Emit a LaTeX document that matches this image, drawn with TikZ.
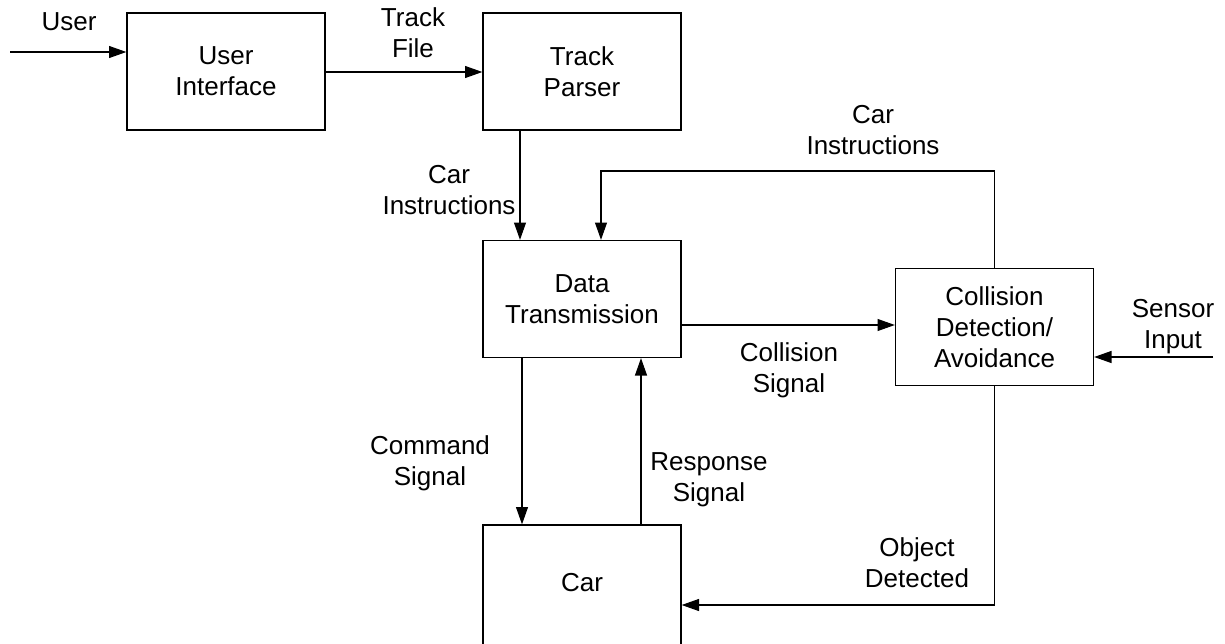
\documentclass[tikz,border=0pt]{standalone}
\usepackage{fontspec}
\setmainfont{Liberation Sans}
\usetikzlibrary{arrows.meta,calc}
\begin{document}
\begin{tikzpicture}[x=0.75pt,y=-0.75pt,
  font=\fontsize{19.5}{23.3}\selectfont,
  blk/.style={draw, line width=1pt, minimum width=148.5pt, minimum height=87.75pt, align=center, inner sep=0pt},
  lbl/.style={align=center, inner sep=0pt},
  arr/.style={line width=0.8pt, -{Triangle[length=13pt,width=9pt]}}]
\useasboundingbox (0,0) rectangle (1225,643);
% blocks
\node[blk] (ui) at (226,71.5) {User\\Interface};
\node[blk] (tp) at (582,71.5) {Track\\Parser};
\node[blk] (dt) at (582,299) {Data\\Transmission};
\node[blk] (cd) at (994.5,327) {Collision\\Detection/\\Avoidance};
\node[blk, minimum height=120pt] (car) at (582,605) {};
\node[lbl] (carlbl) at (582,583) {Car};
% helper coordinates
\coordinate (uin) at (10,52);
\coordinate (tf) at (0,72);
\coordinate (cs) at (0,325);
\coordinate (sin) at (1213,357);
\coordinate (fbR) at (0,171);
\coordinate (fbL) at ($(dt.north)+(19,0)$);
\coordinate (od) at (0,605);
% connectors
\draw[arr] (uin) -- (ui.west |- uin);
\draw[arr] (ui.east |- tf) -- (tp.west |- tf);
\draw[arr] ($(tp.south)+(-62,0)$) -- ($(dt.north)+(-62,0)$);
\draw[arr] (cd.north) -- (cd.north |- fbR) -- (fbL |- fbR) -- (fbL);
\draw[arr] (dt.east |- cs) -- (cd.west |- cs);
\draw[arr] (sin) -- (cd.east |- sin);
\draw[arr] ($(dt.south)+(-60,0)$) -- ($(car.north)+(-60,0)$);
\draw[arr] ($(car.north)+(59,0)$) -- ($(dt.south)+(59,0)$);
\draw[arr] (cd.south) -- (cd.south |- od) -- (car.east |- od);
% labels
\node[lbl] (luser) at (69,22) {User};
\node[lbl] (ltf) at (413,33) {Track\\File};
\node[lbl] (lci1) at (449,190) {Car\\Instructions};
\node[lbl] (lci2) at (873,130) {Car\\Instructions};
\node[lbl] (lcs) at (789,370) {Collision\\Signal};
\node[lbl] (lsi) at (1173,327) {Sensor\\Input};
\node[lbl] (lcmd) at (430,463) {Command\\Signal};
\node[lbl] (lrs) at (709,480) {Response\\Signal};
\node[lbl] (lod) at (917,563) {Object\\Detected};
\end{tikzpicture}
\end{document}
